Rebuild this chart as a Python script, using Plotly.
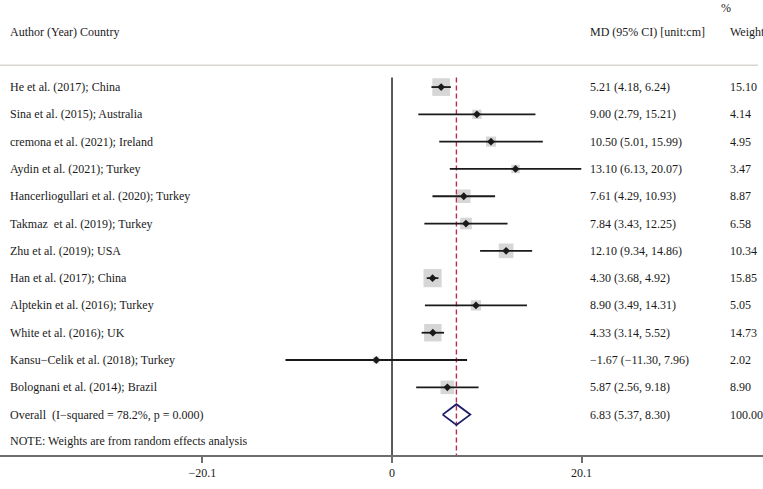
import plotly.graph_objects as go

studies = ["He et al. (2017); China", "Sina et al. (2015); Australia", "cremona et al. (2021); Ireland",
           "Aydin et al. (2021); Turkey", "Hancerliogullari et al. (2020); Turkey",
           "Takmaz\u00a0 et al. (2019); Turkey", "Zhu et al. (2019); USA", "Han et al. (2017); China",
           "Alptekin et al. (2016); Turkey", "White et al. (2016); UK",
           "Kansu\u2212Celik et al. (2018); Turkey", "Bolognani et al. (2014); Brazil"]
md = [5.21, 9.00, 10.50, 13.10, 7.61, 7.84, 12.10, 4.30, 8.90, 4.33, -1.67, 5.87]
lo = [4.18, 2.79, 5.01, 6.13, 4.29, 3.43, 9.34, 3.68, 3.49, 3.14, -11.30, 2.56]
hi = [6.24, 15.21, 15.99, 20.07, 10.93, 12.25, 14.86, 4.92, 14.31, 5.52, 7.96, 9.18]
weight = [15.10, 4.14, 4.95, 3.47, 8.87, 6.58, 10.34, 15.85, 5.05, 14.73, 2.02, 8.90]
overall = {"md": 6.83, "lo": 5.37, "hi": 8.30, "weight": 100.00}
overall_label = "Overall  (I\u2212squared = 78.2%, p = 0.000)"
note = "NOTE: Weights are from random effects analysis"
tick_vals = [-20.1, 0, 20.1]
tick_text = ["\u221220.1", "0", "20.1"]

FONT = "Liberation Serif"
W, H = 763, 489
rows = list(range(len(studies)))
ov_row = len(studies)

def fmt(v):
    return f"{v:.2f}".replace("-", "\u2212")

fig = go.Figure()

# reference lines
fig.add_trace(go.Scatter(x=[0, 0], y=[-0.35, 13.5], mode="lines",
                         line=dict(color="black", width=1.3), hoverinfo="skip", showlegend=False))
fig.add_trace(go.Scatter(x=[overall["md"], overall["md"]], y=[-0.35, 13.5], mode="lines",
                         line=dict(color="#b5304a", width=1.4, dash="5px,3px"), hoverinfo="skip", showlegend=False))

# weight squares
fig.add_trace(go.Scatter(x=md, y=rows, mode="markers",
                         marker=dict(symbol="square", color="#c4c4c6",
                                     size=[4.55 * w ** 0.5 for w in weight], line=dict(width=0)),
                         hoverinfo="skip", showlegend=False))
# CI lines
for r, l, h in zip(rows, lo, hi):
    fig.add_trace(go.Scatter(x=[l, h], y=[r, r], mode="lines",
                             line=dict(color="#1a1a1a", width=1.8), hoverinfo="skip", showlegend=False))
# point estimates
fig.add_trace(go.Scatter(x=md, y=rows, mode="markers",
                         marker=dict(symbol="diamond", color="#1a1a1a", size=6),
                         hoverinfo="skip", showlegend=False))
# overall diamond
dh = 0.38
fig.add_trace(go.Scatter(x=[overall["lo"], overall["md"], overall["hi"], overall["md"], overall["lo"]],
                         y=[ov_row, ov_row - dh, ov_row, ov_row + dh, ov_row], mode="lines",
                         line=dict(color="#1c1c6b", width=1.8), hoverinfo="skip", showlegend=False))

ann = []
def add(text, xp, y, yref="y"):
    ann.append(dict(text=text, x=xp / W, xref="paper", y=y, yref=yref, xanchor="left",
                    yanchor="middle", showarrow=False, font=dict(family=FONT, size=12, color="#1a1a1a")))

add("Author (Year) Country", 8, -2.02)
add("MD (95% CI) [unit:cm]", 588, -2.02)
add("%", 719, -2.9)
add("Weight", 728, -2.02)
for r, s, m, l, h, w in zip(rows, studies, md, lo, hi, weight):
    add(s, 8, r)
    add(f"{fmt(m)} ({fmt(l)}, {fmt(h)})", 588, r)
    add(f"{w:.2f}", 728, r)
add(overall_label, 8, ov_row)
add(f"{fmt(overall['md'])} ({fmt(overall['lo'])}, {fmt(overall['hi'])})", 588, ov_row)
add(f"{overall['weight']:.2f}", 728, ov_row)
add(note, 8, ov_row + 0.98)

fig.update_layout(
    width=W, height=H, margin=dict(l=0, r=0, t=0, b=34),
    paper_bgcolor="white", plot_bgcolor="white",
    annotations=ann,
    shapes=[dict(type="line", xref="paper", x0=0, x1=758 / W, yref="y", y0=-0.8, y1=-0.8,
                 line=dict(color="#d9d6d0", width=1.5))],
    xaxis=dict(range=[-41.57, 39.34], showgrid=False, zeroline=False, showline=True,
               linecolor="#6e6e6e", linewidth=2, ticks="outside", ticklen=6, tickwidth=2,
               tickcolor="#6e6e6e", tickvals=tick_vals, ticktext=tick_text,
               tickfont=dict(family=FONT, size=12, color="#1a1a1a"), fixedrange=True),
    yaxis=dict(range=[13.48, -3.19], visible=False, fixedrange=True),
)

fig.write_html("out.html", config={"displayModeBar": False},
               post_script="document.body.style.margin='0px';document.body.style.overflow='hidden';")
